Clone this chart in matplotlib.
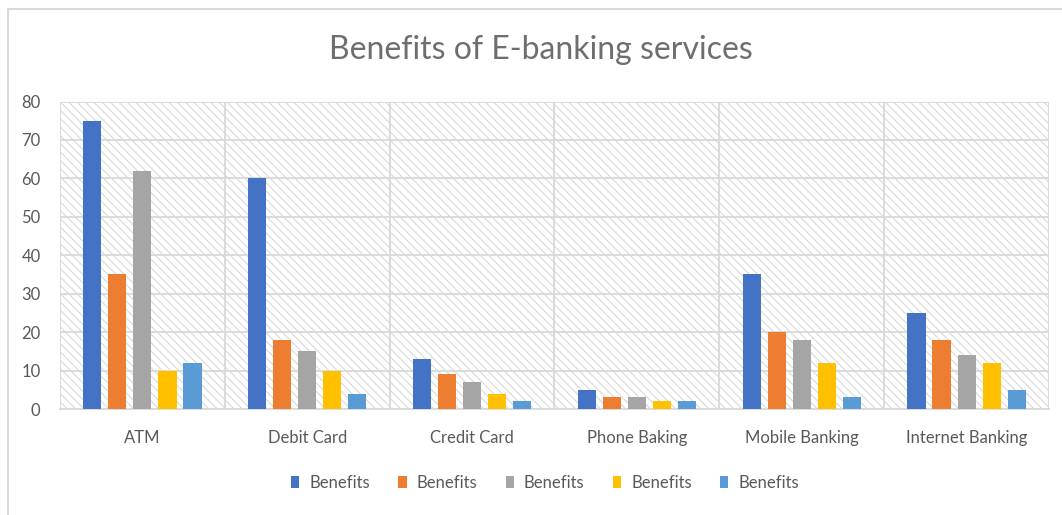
import numpy as np
import matplotlib.pyplot as plt
from matplotlib.patches import Rectangle

plt.rcParams["font.family"] = ["Lato", "DejaVu Sans"]
plt.rcParams["hatch.linewidth"] = 0.8
plt.rcParams["hatch.color"] = "#dcdcdc"

# ── Data ──────────────────────────────────────────────
categories = ["ATM", "Debit Card", "Credit Card", "Phone Baking",
              "Mobile Banking", "Internet Banking"]
series_names = ["Benefits"] * 5
s1 = [75, 60, 13, 5, 35, 25]
s2 = [35, 18, 9, 3, 20, 18]
s3 = [62, 15, 7, 3, 18, 14]
s4 = [10, 10, 4, 2, 12, 12]
s5 = [12, 4, 2, 2, 3, 5]
series = [s1, s2, s3, s4, s5]
colors = ["#4472c4", "#ed7d31", "#a5a5a5", "#ffc000", "#5b9bd5"]

TEXT = "#595959"
GRID = "#d9d9d9"

fig = plt.figure(figsize=(10.62, 5.15), dpi=100)
ax = fig.add_axes([60 / 1062, 1 - 409 / 515, 989 / 1062, 307.5 / 515])

# hatched plot background
ax.patch.set_facecolor("white")
ax.patch.set_hatch("\\\\\\\\")
ax.patch.set_edgecolor(GRID)
ax.patch.set_linewidth(0)

x = np.arange(len(categories))
step, width = 0.152, 0.11
for i, (vals, c, name) in enumerate(zip(series, colors, series_names)):
    ax.bar(x + (i - 2) * step, vals, width, color=c, label=name, zorder=3)

ax.set_xlim(-0.5, len(categories) - 0.5)
ax.set_ylim(0, 80)
ax.set_yticks(range(0, 81, 10))
ax.set_xticks(x)
ax.set_xticklabels(categories)
ax.set_xticks(np.arange(-0.5, len(categories)), minor=True)

ax.grid(axis="y", which="major", color=GRID, linewidth=1.3, zorder=1)
ax.grid(axis="x", which="minor", color=GRID, linewidth=1.3, zorder=1)
ax.grid(axis="x", which="major", visible=False)
ax.set_axisbelow(True)

for side in ["top", "right", "left"]:
    ax.spines[side].set_visible(False)
ax.spines["bottom"].set_color(GRID)
ax.spines["bottom"].set_linewidth(1.3)

ax.tick_params(axis="both", which="both", length=0, labelcolor=TEXT, labelsize=12)
ax.tick_params(axis="y", pad=14)
ax.tick_params(axis="x", pad=15)

fig.text(541 / 1062, 1 - 50 / 515, "Benefits of E-banking services",
         ha="center", va="center", fontsize=23, color="#6e6e6e")

ax.legend(loc="center", bbox_to_anchor=(545 / 1062, 1 - 483 / 515),
          bbox_transform=fig.transFigure, ncol=5, frameon=False,
          fontsize=12, labelcolor=TEXT, handlelength=0.5, handleheight=0.7,
          handletextpad=0.6, columnspacing=1.7)

# chart outline
fig.patches.append(Rectangle((8 / 1062, -0.1), 1.2, 1 - 9 / 515 + 0.1,
                             transform=fig.transFigure, fill=False,
                             edgecolor=GRID, linewidth=1.5))

fig.savefig("out.png", dpi=100, facecolor="white")
